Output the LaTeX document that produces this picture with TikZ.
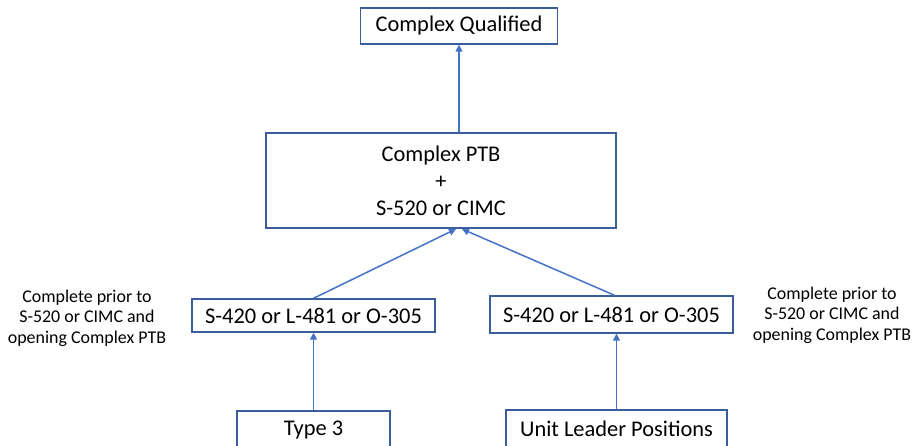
\documentclass[tikz,border=0pt]{standalone}
\usepackage{fontspec}
\setmainfont{Carlito}
\usetikzlibrary{arrows.meta}
\definecolor{boxblue}{HTML}{3A5E9C}
\definecolor{arrblue}{HTML}{4472C4}

\begin{document}
\begin{tikzpicture}[x=1bp,y=-1bp,
    stepbox/.style={draw=boxblue,line width=1.4bp,inner sep=0pt,font=\fontsize{22.5}{27}\selectfont},
    note/.style={align=center,font=\fontsize{18}{20.5}\selectfont},
    arr/.style={draw=arrblue,line width=1.5bp,-{Triangle[length=7bp,width=7bp]}}]
        \useasboundingbox (0,0) rectangle (920,446);
        \clip (0,0) rectangle (920,446);
        \node[stepbox,minimum width=197bp,minimum height=36bp] (cq) at (459,26) {Complex Qualified};
        \node[stepbox,minimum width=350bp,minimum height=95bp,align=center] (ptb) at (441,180.5) {Complex PTB\\+\\S-520 or CIMC};
        \node[stepbox,minimum width=243bp,minimum height=33bp] (s1) at (313.5,315.5) {S-420 or L-481 or O-305};
        \node[stepbox,minimum width=243bp,minimum height=37bp] (s2) at (611.5,314.5) {S-420 or L-481 or O-305};
        \node[stepbox,minimum width=153bp,minimum height=38bp] (t3) at (313.5,430) {Type 3};
        \node[stepbox,minimum width=221bp,minimum height=38bp] (ul) at (616.5,429) {Unit Leader Positions};
        \node[note] (n1) at (87,318) {Complete prior to\\S-520 or CIMC and\\opening Complex PTB};
        \node[note] (n2) at (832,315) {Complete prior to\\S-520 or CIMC and\\opening Complex PTB};
        \coordinate (inL) at (456,229);
        \coordinate (inR) at (462,229);
        \draw[arr] (cq.south |- ptb.north) -- (cq.south);
        \draw[arr] (s1.north) -- (inL);
        \draw[arr] ([xshift=3bp]s2.north) -- (inR);
        \draw[arr] (t3.north) -- (s1.south);
        \draw[arr] (ul.north) -- (ul.north |- s2.south);
    \end{tikzpicture}
\end{document}
